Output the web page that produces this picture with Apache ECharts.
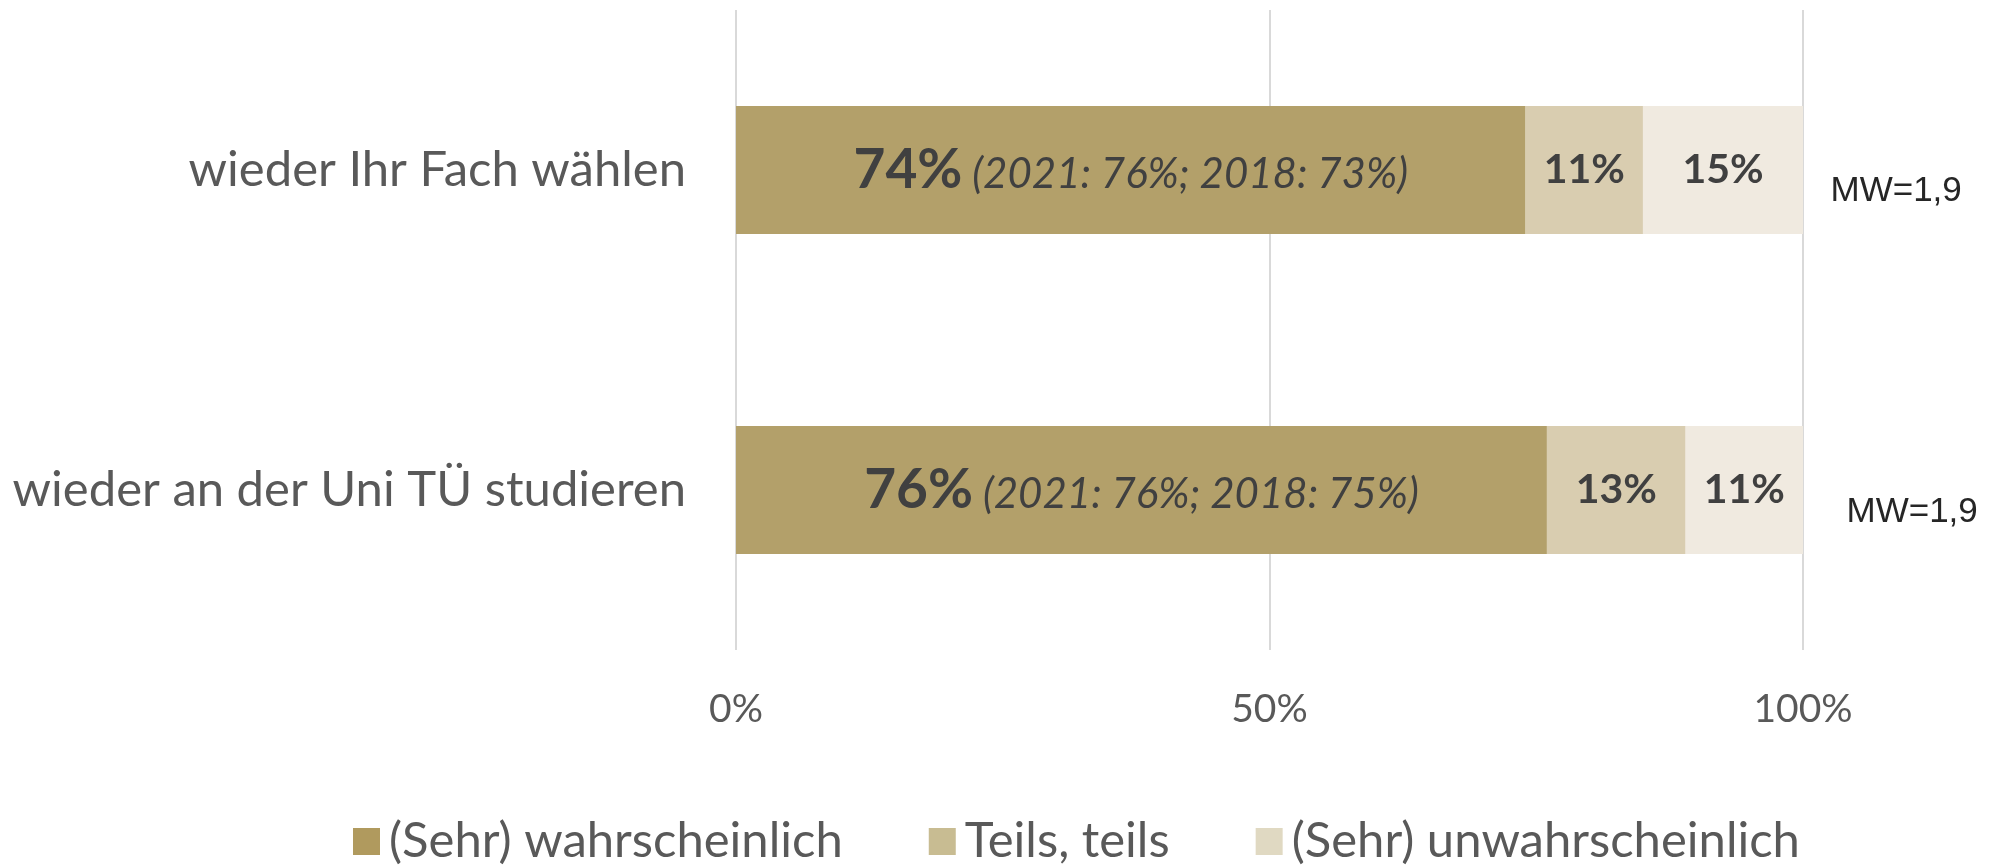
<!DOCTYPE html>
<html>
<head>
<meta charset="utf-8">
<style>
  html, body { margin: 0; padding: 0; background: #fff; }
  #chart { width: 1998px; height: 865px; }
</style>
<script src="https://cdn.jsdelivr.net/npm/echarts@6/dist/echarts.min.js"></script>
</head>
<body>
<div id="chart"></div>
<script>
// data
const categories = ['wieder Ihr Fach wählen', 'wieder an der Uni TÜ studieren']
const seriesNames = ['(Sehr) wahrscheinlich', 'Teils, teils', '(Sehr) unwahrscheinlich']
const likely = [74, 76]
const partly = [11, 13]
const unlikely = [15, 11]
const prev2021 = [76, 76]
const prev2018 = [73, 75]
const meanValues = ['1,9', '1,9']
const tickLabels = { 0: '0%', 50: '50%', 100: '100%' }

const font = 'Lato, "Open Sans", sans-serif'
const colors = ['#b3a06a', '#d9cdb0', '#f0eae0']
const legendColors = ['#b09a5e', '#c8bc92', '#e0d9c2']

const chart = echarts.init(document.getElementById('chart'))

const smallLabel = {
  show: true,
  position: 'inside',
  color: '#404040',
  fontFamily: font,
  fontWeight: 'bold',
  fontSize: 41,
  formatter: p => p.value + '%'
}

const option = {
  animation: false,
  textStyle: { fontFamily: font },
  grid: { left: 736, right: 195, top: 10, bottom: 215, containLabel: false },
  legend: {
    top: 812,
    left: 348,
    itemWidth: 27,
    itemHeight: 27,
    itemGap: 86,
    icon: 'rect',
    textStyle: { fontSize: 49, color: '#595959', fontFamily: font, padding: [0, 0, 0, 4] },
    data: seriesNames.map((n, i) => ({ name: n, itemStyle: { color: legendColors[i] } }))
  },
  xAxis: {
    type: 'value',
    min: 0,
    max: 100,
    interval: 50,
    axisLine: { show: false },
    axisTick: { show: false },
    splitLine: { lineStyle: { color: '#d9d9d9', width: 2 } },
    axisLabel: {
      margin: 40,
      fontSize: 39,
      color: '#595959',
      fontFamily: font,
      formatter: v => tickLabels[v]
    }
  },
  yAxis: {
    type: 'category',
    inverse: true,
    data: categories,
    axisLine: { show: false },
    axisTick: { show: false },
    axisLabel: { margin: 50, fontSize: 49, color: '#595959', fontFamily: font }
  },
  series: [
    {
      name: seriesNames[0],
      type: 'bar',
      stack: 'all',
      barWidth: '40%',
      itemStyle: { color: colors[0] },
      data: likely,
      label: {
        show: true,
        position: 'inside',
        formatter: p => '{b|' + p.value + '%}{i| (2021: ' + prev2021[p.dataIndex] + '%; 2018: ' + prev2018[p.dataIndex] + '%)}',
        rich: {
          b: { fontSize: 55, fontWeight: 'bold', color: '#404040', fontFamily: font },
          i: { fontSize: 42, fontStyle: 'italic', color: '#404040', fontFamily: font, padding: [8, 0, 0, 0] }
        }
      }
    },
    {
      name: seriesNames[1],
      type: 'bar',
      stack: 'all',
      itemStyle: { color: colors[1] },
      data: partly,
      label: smallLabel
    },
    {
      name: seriesNames[2],
      type: 'bar',
      stack: 'all',
      itemStyle: { color: colors[2] },
      data: unlikely,
      label: smallLabel,
      markPoint: {
        symbol: 'circle',
        symbolSize: 1,
        itemStyle: { color: 'rgba(0,0,0,0)' },
        label: {
          show: true,
          position: 'right',
          color: '#262626',
          fontSize: 35,
          fontFamily: '"Liberation Sans", Arial, sans-serif',
          formatter: p => 'MW=' + p.value
        },
        data: [
          { coord: [100, 0], value: meanValues[0], label: { offset: [22, 21] } },
          { coord: [100, 1], value: meanValues[1], label: { offset: [38, 22] } }
        ]
      }
    }
  ]
}

chart.setOption(option)
</script>
</body>
</html>
